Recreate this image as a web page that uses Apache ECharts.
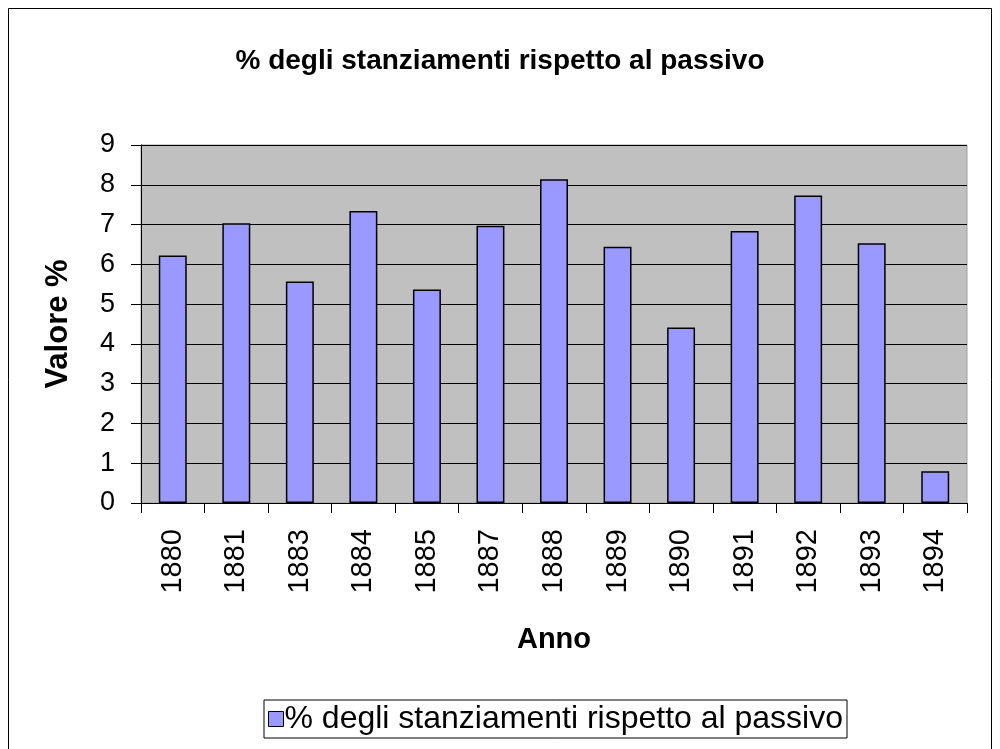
<!DOCTYPE html>
<html>
<head>
<meta charset="utf-8">
<script src="https://cdn.jsdelivr.net/npm/echarts@6/dist/echarts.min.js"></script>
<style>
  html, body { margin: 0; padding: 0; background: #fff; }
  #chart { width: 1000px; height: 749px; }
</style>
</head>
<body>
<div id="chart"></div>
<script>
// dati
var anni = ['1880', '1881', '1883', '1884', '1885', '1887', '1888', '1889', '1890', '1891', '1892', '1893', '1894'];
var valori = [6.22, 7.03, 5.57, 7.34, 5.37, 6.97, 8.14, 6.44, 4.41, 6.84, 7.73, 6.53, 0.80];
var nomeSerie = '% degli stanziamenti rispetto al passivo';

var chart = echarts.init(document.getElementById('chart'));

var font = 'Liberation Sans, Arial, sans-serif';

var option = {
  backgroundColor: '#fff',
  animation: false,
  textStyle: { fontFamily: font },
  title: {
    text: nomeSerie,
    left: 'center',
    top: 42,
    textStyle: { fontSize: 28, fontWeight: 'bold', color: '#000', fontFamily: font }
  },
  graphic: [
    {
      type: 'rect',
      shape: { x: 8.5, y: 8.5, width: 983, height: 760 },
      style: { fill: 'none', stroke: '#000', lineWidth: 1 },
      silent: true
    }
  ],
  legend: {
    data: [nomeSerie],
    left: 264,
    top: 700,
    padding: [3, 4, 3, 4],
    itemWidth: 15,
    itemHeight: 15,
    itemGap: 0,
    icon: 'rect',
    borderColor: '#000',
    borderWidth: 1,
    itemStyle: { borderColor: '#000', borderWidth: 1 },
    textStyle: { fontSize: 32, color: '#000', fontFamily: font, padding: [0, 0, 0, -4] }
  },
  grid: {
    left: 141,
    right: 33,
    top: 145,
    bottom: 246,
    show: true,
    backgroundColor: '#c0c0c0',
    borderColor: '#a0a0a0',
    borderWidth: 1
  },
  xAxis: {
    type: 'category',
    data: anni,
    name: 'Anno',
    nameLocation: 'middle',
    nameGap: 122,
    nameTextStyle: { fontSize: 29, fontWeight: 'bold', color: '#000', fontFamily: font },
    axisLine: { lineStyle: { color: '#000', width: 1 } },
    axisTick: { show: true, length: 10, lineStyle: { color: '#000' } },
    axisLabel: { rotate: 90, fontSize: 29, color: '#000', margin: 26, fontFamily: font },
    splitLine: { show: false }
  },
  yAxis: {
    type: 'value',
    min: 0,
    max: 9,
    interval: 1,
    name: 'Valore %',
    nameLocation: 'middle',
    nameGap: 67,
    nameTextStyle: { fontSize: 31, fontWeight: 'bold', color: '#000', fontFamily: font },
    axisLine: { show: true, lineStyle: { color: '#000', width: 1 } },
    axisTick: { show: true, length: 10, lineStyle: { color: '#000' } },
    axisLabel: { fontSize: 27, color: '#000', margin: 26, fontFamily: font },
    splitLine: { show: true, lineStyle: { color: '#000', width: 1 } }
  },
  series: [
    {
      name: nomeSerie,
      type: 'bar',
      data: valori,
      barWidth: '44%',
      itemStyle: { color: '#9999ff', borderColor: '#000', borderWidth: 1.5 }
    }
  ]
};

chart.setOption(option);
</script>
</body>
</html>
